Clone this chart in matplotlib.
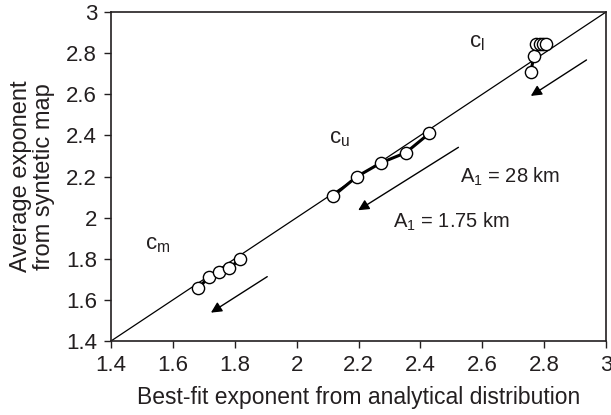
import numpy as np
import matplotlib as mpl
mpl.rcParams['font.family'] = ['Liberation Sans', 'DejaVu Sans']
mpl.rcParams['font.size'] = 14.
mpl.rcParams['mathtext.fontset'] = 'custom'
mpl.rcParams['mathtext.rm'] = 'Liberation Sans'
mpl.rcParams['mathtext.sf'] = 'Liberation Sans'
mpl.rcParams['mathtext.it'] = 'Liberation Sans'
from matplotlib import pyplot as plt

# c_m group (A1 small)
cm_x = [1.682, 1.717, 1.750, 1.782, 1.817]
cm_y = [1.656, 1.713, 1.737, 1.754, 1.797]
# c_u group
cu_x = [2.118, 2.194, 2.273, 2.353, 2.429]
cu_y = [2.105, 2.199, 2.267, 2.316, 2.410]
# c_l group
cl_x = [2.757, 2.767, 2.774, 2.787, 2.797, 2.806]
cl_y = [2.707, 2.788, 2.843, 2.843, 2.843, 2.843]

ticks = [1.4, 1.6, 1.8, 2, 2.2, 2.4, 2.6, 2.8, 3]
tick_labels = ['1.4', '1.6', '1.8', '2', '2.2', '2.4', '2.6', '2.8', '3']

txt = '#231f20'
fig = plt.figure(figsize=(6.11, 4.15), dpi=100)
ax = fig.add_axes([0.1817, 0.1783, 0.8101, 0.7927])

ax.plot([1.4, 3], [1.4, 3], color='black', lw=0.9, zorder=1)
for xs, ys in [(cm_x, cm_y), (cu_x, cu_y), (cl_x, cl_y)]:
    ax.plot(xs, ys, color='black', lw=2.2, zorder=2)
    ax.plot(xs, ys, 'o', ms=8.8, mfc='white', mec='black', mew=1.0, zorder=3)

arrows = [((2.937, 2.767), (2.757, 2.592)),
          ((2.523, 2.342), (2.199, 2.036)),
          ((1.905, 1.713), (1.723, 1.538))]
for tail, head in arrows:
    ax.annotate('', xy=head, xytext=tail,
                arrowprops=dict(arrowstyle='-|>', color='black', lw=1.0,
                                mutation_scale=16, shrinkA=0, shrinkB=0))

ax.text(2.583, 2.85, r'c$_{\mathrm{l}}$', ha='center', va='center', color=txt, fontsize=16)
ax.text(2.14, 2.387, r'c$_{\mathrm{u}}$', ha='center', va='center', color=txt, fontsize=16)
ax.text(1.552, 1.867, r'c$_{\mathrm{m}}$', ha='center', va='center', color=txt, fontsize=16)
ax.text(2.528, 2.198, r'A$_{\mathrm{1}}$ = 28 km', ha='left', va='center', color=txt, fontsize=14.5)
ax.text(2.311, 1.979, r'A$_{\mathrm{1}}$ = 1.75 km', ha='left', va='center', color=txt, fontsize=14.5)

ax.set_xlim(1.4, 3)
ax.set_ylim(1.4, 3)
ax.set_xticks(ticks)
ax.set_xticklabels(tick_labels)
ax.set_yticks(ticks)
ax.set_yticklabels(tick_labels)
ax.tick_params(direction='out', length=5, width=1, colors=txt, labelcolor=txt,
               labelsize=16, pad=5)
for s in ax.spines.values():
    s.set_linewidth(1.2)
    s.set_color(txt)
ax.set_xlabel('Best-fit exponent from analytical distribution', color=txt,
              fontsize=16.5, labelpad=7)
ax.set_ylabel('Average exponent\nfrom syntetic map', color=txt,
              fontsize=17, labelpad=8, linespacing=1.05)

plt.savefig('out.png', dpi=100)
